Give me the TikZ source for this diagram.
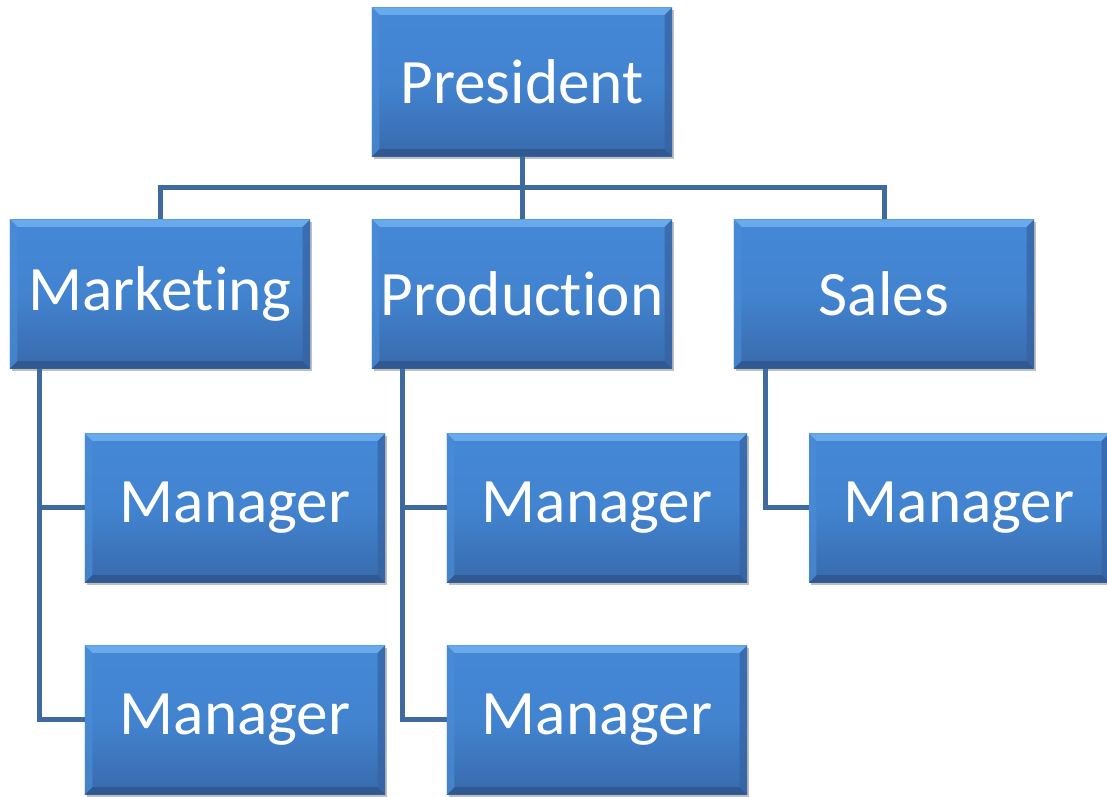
\documentclass[tikz,border=0pt]{standalone}
\usepackage{fontspec}
\setmainfont[RawFeature={-liga;-dlig;-clig;-calt}]{Carlito}
\usetikzlibrary{calc,shadows}
\definecolor{boxtop}{RGB}{68,136,214}
\definecolor{boxbot}{RGB}{56,106,172}
\definecolor{bevtop}{RGB}{104,170,236}
\definecolor{bevbot}{RGB}{48,88,145}
\definecolor{bevleft}{RGB}{74,140,214}
\definecolor{bevright}{RGB}{54,98,160}
\definecolor{linecol}{RGB}{62,106,160}
\tikzset{
  orgbox/.style={rectangle, minimum width=9cm, minimum height=4.47cm, inner sep=0pt,
    text=white, font=\fontsize{54}{62}\selectfont,
    top color=boxtop, bottom color=boxbot, middle color=boxtop!85!boxbot,
    drop shadow={shadow xshift=1.5pt, shadow yshift=-2.5pt, opacity=0.25, fill=black},
    path picture={
      \fill[bevtop] (path picture bounding box.north west) -- (path picture bounding box.north east)
        -- ([shift={(-0.22cm,-0.22cm)}]path picture bounding box.north east)
        -- ([shift={(0.22cm,-0.22cm)}]path picture bounding box.north west) -- cycle;
      \fill[bevbot] (path picture bounding box.south west) -- (path picture bounding box.south east)
        -- ([shift={(-0.22cm,0.22cm)}]path picture bounding box.south east)
        -- ([shift={(0.22cm,0.22cm)}]path picture bounding box.south west) -- cycle;
      \fill[bevleft, opacity=0.7] (path picture bounding box.north west) -- (path picture bounding box.south west)
        -- ([shift={(0.22cm,0.22cm)}]path picture bounding box.south west)
        -- ([shift={(0.22cm,-0.22cm)}]path picture bounding box.north west) -- cycle;
      \fill[bevright, opacity=0.7] (path picture bounding box.north east) -- (path picture bounding box.south east)
        -- ([shift={(-0.22cm,0.22cm)}]path picture bounding box.south east)
        -- ([shift={(-0.22cm,-0.22cm)}]path picture bounding box.north east) -- cycle;
    }},
  conn/.style={draw=linecol, line width=0.15cm}
}
\begin{document}
\begin{tikzpicture}[x=0.03cm, y=-0.03cm]
\useasboundingbox (0,0) rectangle (1107,797);
\coordinate (bar) at (522,188);
\node[orgbox] (pres) at (522,82) {President};
\node[orgbox] (mkt) at (160,294) {Market\kern0pt ing};
\node[orgbox] (prod) at (522,294) {Product\kern0pt ion};
\node[orgbox] (sales) at (884,294) {Sales};
\node[orgbox] (m1) at (235,508) {Manager};
\node[orgbox] (m2) at (235,720) {Manager};
\node[orgbox] (p1) at (597,508) {Manager};
\node[orgbox] (p2) at (597,720) {Manager};
\node[orgbox] (s1) at (959,508) {Manager};
\draw[conn] (pres.south) -- (prod.north);
\draw[conn] (mkt.north) |- (bar) -| (sales.north);
\draw[conn] ($(mkt.south west)+(30,0)$) coordinate (mk) |- (m1.west);
\draw[conn] (mk) |- (m2.west);
\draw[conn] ($(prod.south west)+(31,0)$) coordinate (pk) |- (p1.west);
\draw[conn] (pk) |- (p2.west);
\draw[conn] ($(sales.south west)+(32,0)$) |- (s1.west);
\end{tikzpicture}
\end{document}
